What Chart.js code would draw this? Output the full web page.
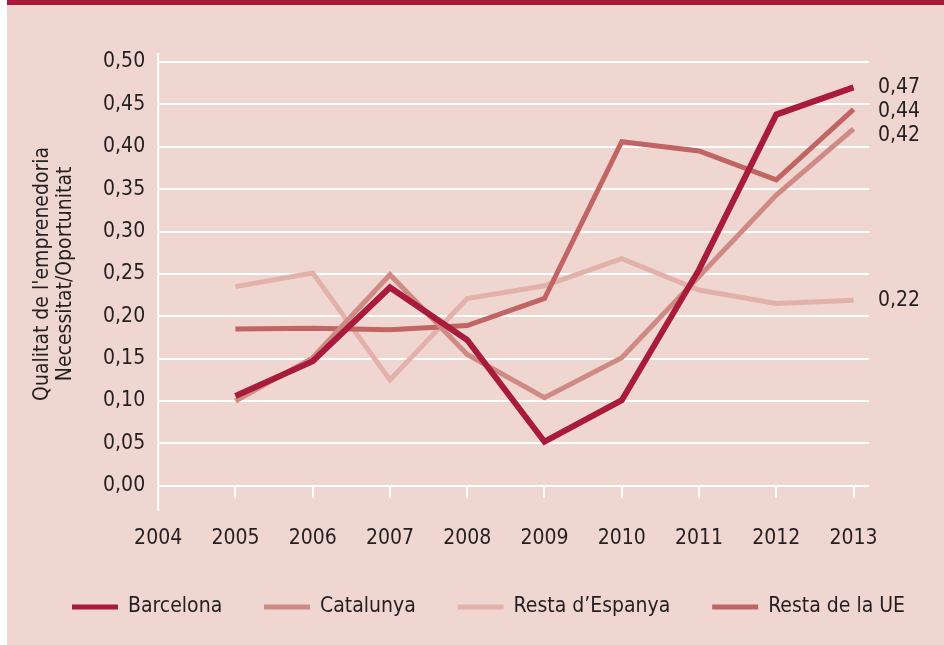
<!DOCTYPE html>
<html>
<head>
<meta charset="utf-8">
<script src="https://cdn.jsdelivr.net/npm/chart.js@4/dist/chart.umd.min.js"></script>
<style>
    html, body { margin: 0; padding: 0; background: #ffffff; }
    #frame {
        position: absolute; left: 7px; top: 0; width: 937px; height: 640px;
        background: #f0d6d1; border-top: 5px solid #ab1a38;
    }
    #wrap { position: absolute; left: 0; top: 0; width: 944px; height: 645px; }
</style>
</head>
<body>
<div id="frame"></div>
<div id="wrap"><canvas id="qualityChart"></canvas></div>
<script>
// Qualitat de l'emprenedoria: ràtio Necessitat/Oportunitat, 2005-2013
const years = [2005, 2006, 2007, 2008, 2009, 2010, 2011, 2012, 2013];
const barcelona = [0.106, 0.147, 0.234, 0.172, 0.052, 0.101, 0.255, 0.438, 0.470];
const catalunya = [0.100, 0.151, 0.249, 0.155, 0.104, 0.151, 0.247, 0.343, 0.421];
const restaEspanya = [0.235, 0.251, 0.125, 0.221, 0.236, 0.268, 0.231, 0.215, 0.219];
const restaUE = [0.185, 0.186, 0.184, 0.189, 0.221, 0.406, 0.395, 0.361, 0.444];
const seriesNames = ['Barcelona', 'Catalunya', 'Resta d\u2019Espanya', 'Resta de la UE'];
const yTicks = [0, 0.05, 0.10, 0.15, 0.20, 0.25, 0.30, 0.35, 0.40, 0.45, 0.50];
const yTitle = ['Qualitat de l\'emprenedoria', 'Necessitat/Oportunitat'];

const FONT = '"Liberation Sans Narrow", "DejaVu Sans Condensed", "Arial Narrow", sans-serif';
const FONT_SIZE = 21;
const TEXT = '#231f20';

const fmt = v => v.toFixed(2).replace('.', ',');
const toPoints = arr => arr.map((v, i) => ({ x: years[i], y: v }));

// línia de l'eix Y allargada, etiquetes finals i llegenda
const extrasPlugin = {
    id: 'extras',
    beforeDatasetsDraw(chart) {
        const { ctx, chartArea } = chart;
        ctx.save();
        ctx.strokeStyle = '#ffffff';
        ctx.lineWidth = 2;
        ctx.beginPath();
        ctx.moveTo(chartArea.left, chartArea.top - 9);
        ctx.lineTo(chartArea.left, chartArea.bottom + 25);
        ctx.stroke();
        ctx.restore();
    },
    afterDatasetsDraw(chart) {
        const { ctx, chartArea } = chart;
        const yScale = chart.scales.y;
        const labels = chart.data.datasets.map(ds => {
            const last = ds.data[ds.data.length - 1].y;
            return { text: fmt(last), y: yScale.getPixelForValue(last) };
        }).sort((a, b) => a.y - b.y);
        for (let i = 1; i < labels.length; i++) {
            if (labels[i].y - labels[i - 1].y < 24) labels[i].y = labels[i - 1].y + 24;
        }
        ctx.save();
        ctx.font = FONT_SIZE + 'px ' + FONT;
        ctx.fillStyle = TEXT;
        ctx.textAlign = 'left';
        ctx.textBaseline = 'middle';
        labels.forEach(l => ctx.fillText(l.text, chartArea.right + 9, l.y));
        ctx.restore();
    },
    afterDraw(chart) {
        const { ctx } = chart;
        const boxW = 46, gapText = 10;
        const left = 72, right = 905;
        const y = chart.height - 38;
        ctx.save();
        ctx.font = FONT_SIZE + 'px ' + FONT;
        const items = chart.data.datasets.map(ds => ({
            text: ds.label, color: ds.borderColor, w: boxW + gapText + ctx.measureText(ds.label).width
        }));
        const used = items.reduce((s, it) => s + it.w, 0);
        const gap = (right - left - used) / (items.length - 1);
        let x = left;
        ctx.textBaseline = 'middle';
        ctx.textAlign = 'left';
        items.forEach(it => {
            ctx.fillStyle = it.color;
            ctx.fillRect(x, y - 2.5, boxW, 5);
            ctx.fillStyle = TEXT;
            ctx.fillText(it.text, x + boxW + gapText, y);
            x += it.w + gap;
        });
        ctx.restore();
    }
};

const ctx = document.getElementById('qualityChart').getContext('2d');
new Chart(ctx, {
    type: 'line',
    data: {
        datasets: [
            { label: seriesNames[0], data: toPoints(barcelona), borderColor: '#a91b3b', backgroundColor: '#a91b3b', borderWidth: 6, order: 0 },
            { label: seriesNames[1], data: toPoints(catalunya), borderColor: '#cf8a84', backgroundColor: '#cf8a84', borderWidth: 5, order: 1 },
            { label: seriesNames[2], data: toPoints(restaEspanya), borderColor: '#e2b2aa', backgroundColor: '#e2b2aa', borderWidth: 5, order: 3 },
            { label: seriesNames[3], data: toPoints(restaUE), borderColor: '#c06464', backgroundColor: '#c06464', borderWidth: 5, order: 2 }
        ]
    },
    options: {
        responsive: true,
        maintainAspectRatio: false,
        animation: false,
        layout: { padding: { top: 62, right: 75, bottom: 66, left: 32 } },
        elements: {
            point: { radius: 0, hoverRadius: 0 },
            line: { tension: 0, borderCapStyle: 'butt', borderJoinStyle: 'miter' }
        },
        plugins: {
            tooltip: { enabled: false },
            legend: { display: false }
        },
        scales: {
            x: {
                type: 'linear',
                min: 2004,
                max: 2013.2,
                border: { display: false },
                grid: { drawOnChartArea: false, drawTicks: true, tickLength: 12, color: '#ffffff', lineWidth: 2 },
                ticks: {
                    stepSize: 1,
                    includeBounds: false,
                    maxRotation: 0,
                    padding: 28,
                    color: TEXT,
                    font: { family: FONT, size: FONT_SIZE },
                    callback: v => String(v)
                }
            },
            y: {
                min: 0,
                max: 0.5,
                afterBuildTicks: scale => { scale.ticks = yTicks.map(v => ({ value: v })); },
                border: { display: false },
                grid: { color: '#ffffff', lineWidth: 2, drawTicks: false },
                ticks: {
                    padding: 13,
                    color: TEXT,
                    font: { family: FONT, size: FONT_SIZE },
                    callback: v => fmt(v)
                },
                title: {
                    display: true,
                    text: yTitle,
                    color: TEXT,
                    font: { family: FONT, size: FONT_SIZE, lineHeight: 1.05 },
                    padding: { top: 0, bottom: 14 }
                }
            }
        }
    },
    plugins: [extrasPlugin]
});
</script>
</body>
</html>
